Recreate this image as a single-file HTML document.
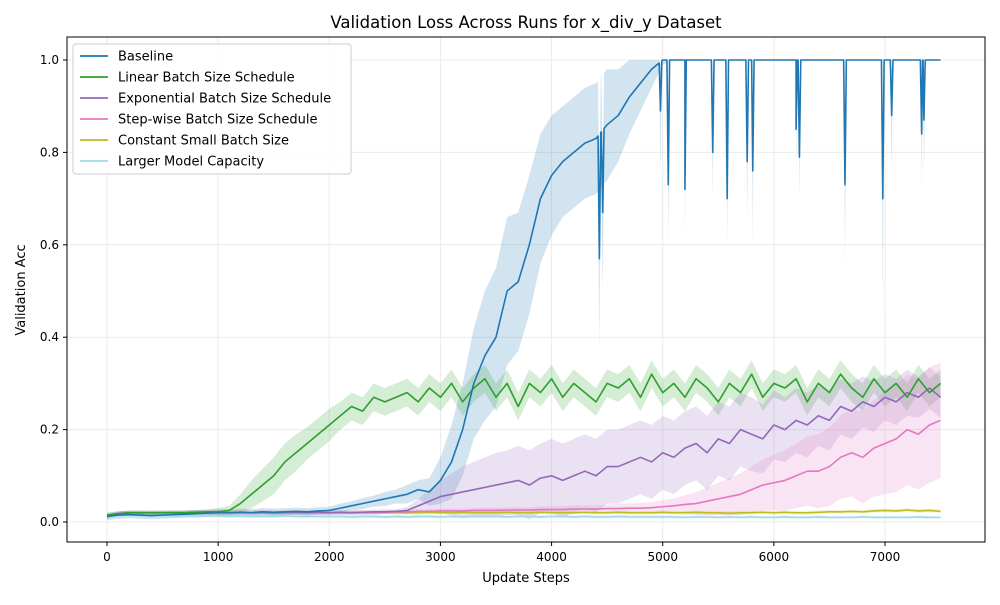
<!DOCTYPE html>
<html><head><meta charset="utf-8"><style>
body{margin:0;background:#fff;font-family:"Liberation Sans","DejaVu Sans",sans-serif}
svg text{font-family:"DejaVu Sans","Liberation Sans",sans-serif}
</style></head><body>
<svg id="chart" width="1000" height="600" xmlns="http://www.w3.org/2000/svg">
<rect width="1000" height="600" fill="#fff"/>
<text x="526" y="28" font-size="16.5" text-anchor="middle">Validation Loss Across Runs for x_div_y Dataset</text>
<g id="grid"></g><g id="bands"></g><g id="lines"></g>
<rect x="67" y="37" width="918" height="505" fill="none" stroke="#000" stroke-width="1"/>
<g id="axes" font-size="12"></g>
<text x="526" y="582" font-size="13" text-anchor="middle">Update Steps</text>
<text x="25" y="290" font-size="13" text-anchor="middle" transform="rotate(-90 25 290)">Validation Acc</text>
<g id="legend"></g>
</svg>
<script>
const steps = Array.from({length:76},(_, i)=>i*100);
const seriesNames = ["Baseline","Linear Batch Size Schedule","Exponential Batch Size Schedule","Step-wise Batch Size Schedule","Constant Small Batch Size","Larger Model Capacity"];
const baseline = [.012,.015,.016,.015,.014,.015,.016,.017,.018,.019,.02,
.02,.021,.02,.022,.021,.022,.023,.022,.024,.025,
.03,.035,.04,.045,.05,.055,.06,.07,.065,.09,
.13,.2,.3,.36,.4,.5,.52,.6,.7,.75,
.78,.8,.82,.83,.86,.88,.92,.95,.98,1,
1,1,1,1,1,1,1,1,1,1,
1,1,1,1,1,1,1,1,1,1,
1,1,1,1,1];
const baselineDipSteps = [4430,4460,4980,5050,5200,5450,5580,5760,5810,6200,6230,6640,6980,7060,7330,7350];
const baselineDipValues = [.57,.67,.89,.73,.72,.8,.7,.78,.76,.85,.79,.73,.7,.88,.84,.87];
const baselineDipLow = [.37,.5,.75,.6,.6,.7,.6,.65,.6,.75,.7,.55,.45,.75,.72,.75];
const linear = [.015,.018,.02,.02,.02,.02,.02,.02,.021,.022,.022,
.025,.04,.06,.08,.1,.13,.15,.17,.19,.21,
.23,.25,.24,.27,.26,.27,.28,.26,.29,.27,
.3,.26,.29,.31,.27,.3,.25,.3,.28,.31,
.27,.3,.28,.26,.3,.29,.31,.27,.32,.28,
.3,.27,.31,.29,.26,.3,.28,.32,.27,.3,
.29,.31,.26,.3,.28,.32,.29,.27,.31,.28,
.3,.27,.31,.28,.3];
const exponential = [.012,.018,.02,.02,.02,.02,.02,.02,.021,.02,.021,
.02,.021,.02,.021,.02,.02,.021,.02,.021,.02,
.021,.02,.021,.022,.022,.023,.025,.035,.045,.055,
.06,.065,.07,.075,.08,.085,.09,.08,.095,.1,
.09,.1,.11,.1,.12,.12,.13,.14,.13,.15,
.14,.16,.17,.15,.18,.17,.2,.19,.18,.21,
.2,.22,.21,.23,.22,.25,.24,.26,.25,.27,
.26,.28,.27,.29,.27];
const stepwise = [.012,.018,.02,.02,.02,.02,.02,.02,.02,.02,.02,
.02,.02,.02,.02,.02,.02,.02,.02,.02,.02,
.02,.02,.021,.02,.021,.022,.022,.023,.023,.024,
.024,.024,.025,.025,.025,.026,.026,.026,.027,.027,
.027,.028,.028,.028,.029,.029,.03,.03,.031,.033,
.035,.038,.04,.045,.05,.055,.06,.07,.08,.085,
.09,.1,.11,.11,.12,.14,.15,.14,.16,.17,
.18,.2,.19,.21,.22];
const constantSmall = [.012,.016,.018,.019,.02,.02,.02,.02,.02,.021,.02,
.02,.021,.02,.02,.019,.02,.02,.021,.02,.02,
.02,.021,.02,.02,.021,.02,.02,.02,.021,.02,
.02,.021,.02,.02,.02,.021,.02,.02,.021,.02,
.02,.02,.021,.02,.02,.021,.02,.02,.02,.021,
.02,.02,.021,.02,.02,.019,.02,.02,.021,.02,
.021,.02,.02,.021,.022,.022,.023,.022,.024,.025,
.024,.026,.024,.025,.023];
const largerModel = [.012,.014,.015,.014,.013,.014,.013,.014,.013,.013,.013,
.012,.013,.012,.012,.012,.013,.012,.012,.012,.012,
.012,.011,.012,.012,.011,.012,.011,.012,.012,.011,
.012,.011,.012,.012,.012,.011,.012,.012,.011,.012,
.012,.011,.012,.011,.011,.012,.011,.011,.011,.011,
.011,.01,.011,.011,.01,.011,.01,.011,.01,.01,
.011,.01,.01,.011,.01,.01,.01,.011,.01,.01,
.01,.01,.011,.01,.01];
const baselineSpread = [.008,.008,.008,.008,.008,.008,.008,.008,.008,.008,.008,
.008,.008,.008,.008,.008,.008,.008,.008,.008,.008,
.01,.01,.012,.012,.015,.015,.02,.02,.03,.05,
.08,.1,.12,.14,.15,.16,.15,.15,.14,.13,
.12,.12,.12,.12,.12,.1,.08,.06,.04,.01,
0,0,0,0,0,0,0,0,0,0,
0,0,0,0,0,0,0,0,0,0,
0,0,0,0,0];
const linearSpread = [.005,.005,.005,.005,.005,.005,.005,.005,.005,.005,.008,
.01,.02,.03,.035,.04,.04,.04,.035,.035,.035,
.03,.03,.03,.03,.03,.03,.03,.03,.03,.03,
.03,.03,.03,.03,.03,.03,.03,.03,.03,.03,
.03,.03,.03,.03,.03,.03,.03,.03,.03,.03,
.03,.03,.03,.03,.03,.03,.03,.03,.03,.03,
.03,.03,.03,.03,.03,.03,.03,.03,.03,.03,
.03,.03,.03,.03,.03];
const expSpread = [.005,.005,.005,.005,.005,.005,.005,.005,.005,.005,.005,
.005,.005,.005,.005,.005,.005,.005,.005,.005,.005,
.005,.005,.005,.005,.005,.005,.008,.015,.025,.035,
.045,.055,.06,.065,.07,.07,.075,.075,.075,.08,
.08,.08,.08,.08,.08,.08,.08,.08,.08,.08,
.08,.08,.08,.08,.08,.08,.08,.08,.075,.075,
.07,.07,.07,.065,.065,.06,.06,.055,.055,.05,
.05,.05,.045,.045,.045];
const stepSpread = [.004,.004,.004,.004,.004,.004,.004,.004,.004,.004,.004,
.004,.004,.004,.004,.004,.004,.004,.004,.004,.004,
.004,.004,.004,.004,.004,.004,.004,.005,.005,.005,
.005,.005,.005,.006,.006,.006,.006,.006,.007,.007,
.007,.008,.008,.008,.009,.01,.01,.011,.012,.014,
.016,.02,.025,.03,.035,.04,.045,.05,.055,.06,
.065,.07,.075,.08,.085,.09,.095,.1,.105,.11,
.115,.12,.12,.125,.125];
const smallSpread = Array(76).fill(.004);
const xTicks = [0,1000,2000,3000,4000,5000,6000,7000];
const yTicks = [0,0.2,0.4,0.6,0.8,1.0];
const colors = ["#1f77b4","#2ca02c","#9467bd","#e377c2","#bcbd22","#9edae5"];

const xs = v => 107 + v*(778/7000);
const ys = v => 522 - v*462;
const NS="http://www.w3.org/2000/svg";
function mk(tag,parent,attrs){const e=document.createElementNS(NS,tag);for(const k in attrs)e.setAttribute(k,attrs[k]);parent.appendChild(e);return e;}
function interp(arr,st){const i=Math.min(74,Math.floor(st/100));const f=(st-i*100)/100;return arr[i]*(1-f)+arr[i+1]*f;}
const grid=document.getElementById('grid'),axes=document.getElementById('axes'),bands=document.getElementById('bands'),lines=document.getElementById('lines'),legend=document.getElementById('legend');
xTicks.forEach(t=>{
  const g=mk('line',grid,{x1:xs(t),x2:xs(t),y1:37,y2:542,stroke:'#ebebeb','stroke-width':1});
  
  
  mk('line',axes,{x1:xs(t),x2:xs(t),y1:542,y2:546,stroke:'#000'});
  const tx=mk('text',axes,{x:xs(t),y:561,'text-anchor':'middle'});tx.textContent=t;
  
  
});
yTicks.forEach(t=>{
  const g=mk('line',grid,{x1:67,x2:985,y1:ys(t),y2:ys(t),stroke:'#ebebeb','stroke-width':1});
  
  
  mk('line',axes,{x1:63,x2:67,y1:ys(t),y2:ys(t),stroke:'#000'});
  const tx=mk('text',axes,{x:59,y:ys(t)+4,'text-anchor':'end'});tx.textContent=t.toFixed(1);
  
  
});
// build baseline points with narrow dips merged
function mergedBaseline(){
  let pts=steps.map((s,i)=>({s:s,v:baseline[i],lo:Math.max(0,baseline[i]-baselineSpread[i]),hi:Math.min(1,baseline[i]+baselineSpread[i])}));
  baselineDipSteps.forEach((d,j)=>{
    [d-12,d+12].forEach(s=>{const v=interp(baseline,s),sp=interp(baselineSpread,s);pts.push({s:s,v:v,lo:Math.max(0,v-sp),hi:Math.min(1,v+sp)});});
    pts.push({s:d,v:baselineDipValues[j],lo:baselineDipLow[j],hi:Math.min(1,baselineDipValues[j]+0.1)});
  });
  pts.sort((a,b)=>a.s-b.s);
  return pts;
}
const series=[baseline,linear,exponential,stepwise,constantSmall,largerModel];
const spreads=[baselineSpread,linearSpread,expSpread,stepSpread,smallSpread,smallSpread];
const bpts=mergedBaseline();
series.forEach((s,k)=>{
  let up,lo;
  if(k===0){
    up=bpts.map(p=>xs(p.s)+','+ys(p.hi));
    lo=bpts.map(p=>xs(p.s)+','+ys(p.lo)).reverse();
  } else {
    const sp=spreads[k];
    up=s.map((v,i)=>xs(steps[i])+','+ys(Math.min(1,v+sp[i])));
    lo=s.map((v,i)=>xs(steps[i])+','+ys(Math.max(0,v-sp[i]))).reverse();
  }
  const b=mk('polygon',bands,{points:up.concat(lo).join(' '),fill:colors[k],'fill-opacity':0.2,stroke:'none'});
  
  
});
[5,4,3,2,1,0].forEach(k=>{
  const s=series[k];
  const pts=k===0?bpts.map(p=>xs(p.s)+','+ys(p.v)):s.map((v,i)=>xs(steps[i])+','+ys(v));
  const l=mk('polyline',lines,{points:pts.join(' '),fill:'none',stroke:colors[k],'stroke-width':1.6,'stroke-linejoin':'round'});
  
  
});
mk('rect',legend,{x:73,y:44,width:278,height:130,rx:3,fill:'#fff','fill-opacity':0.85,stroke:'#ccc'});
seriesNames.forEach((n,k)=>{
  const y=56+k*21;
  const l=mk('line',legend,{x1:80,x2:108,y1:y,y2:y,stroke:colors[k],'stroke-width':1.8});
  
  
  const t=mk('text',legend,{x:118,y:y+4.5,'font-size':13});t.textContent=n;
  
  
});
</script>
</body></html>
